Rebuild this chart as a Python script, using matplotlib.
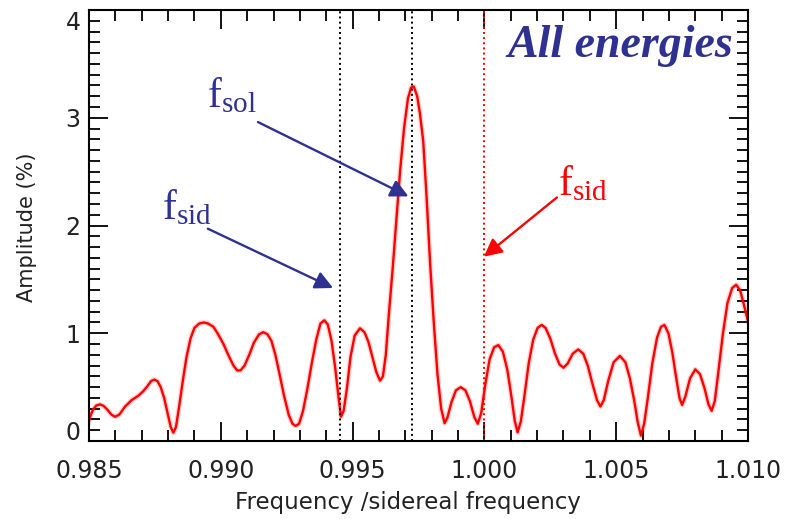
import matplotlib.pyplot as plt
from matplotlib.ticker import MultipleLocator
from matplotlib.transforms import ScaledTranslation

plt.rcParams['mathtext.fontset'] = 'custom'
plt.rcParams['mathtext.rm'] = 'Liberation Serif'
plt.rcParams['mathtext.it'] = 'Liberation Serif:italic'

# amplitude spectrum, frequency in units of the sidereal frequency
freq = [0.98497, 0.98505, 0.98515, 0.98528, 0.98542, 0.98556, 0.98570, 0.98585,
        0.98599, 0.98615, 0.98637, 0.98662, 0.98687, 0.98705, 0.98722, 0.98735,
        0.98748, 0.98760, 0.98772, 0.98785, 0.98797, 0.98810, 0.98820, 0.98830,
        0.98842, 0.98856, 0.98870, 0.98885, 0.98900, 0.98918, 0.98935, 0.98952,
        0.98972, 0.98990, 0.99010, 0.99030, 0.99048, 0.99062, 0.99075, 0.99090,
        0.99108, 0.99125, 0.99145, 0.99161, 0.99177, 0.99192, 0.99207, 0.99222,
        0.99240, 0.99258, 0.99272, 0.99284, 0.99297, 0.99312, 0.99328, 0.99345,
        0.99362, 0.99378, 0.99393, 0.99406, 0.99420, 0.99434, 0.99446, 0.99456,
        0.99466, 0.99478, 0.99492, 0.99508, 0.99528, 0.99545, 0.99560, 0.99575,
        0.99590, 0.99604, 0.99615, 0.99626, 0.99638, 0.99652, 0.99666, 0.99680,
        0.99695, 0.99710, 0.99722, 0.99732, 0.99745, 0.99756, 0.99768, 0.99781,
        0.99794, 0.99808, 0.99822, 0.99836, 0.99849, 0.99860, 0.99875, 0.99892,
        0.99910, 0.99928, 0.99945, 0.99962, 0.99975, 0.99988, 1.00003, 1.00020,
        1.00037, 1.00053, 1.00070, 1.00087, 1.00102, 1.00115, 1.00126, 1.00138,
        1.00152, 1.00168, 1.00185, 1.00202, 1.00217, 1.00232, 1.00250, 1.00268,
        1.00285, 1.00300, 1.00316, 1.00335, 1.00356, 1.00375, 1.00392, 1.00410,
        1.00427, 1.00440, 1.00453, 1.00470, 1.00490, 1.00514, 1.00535, 1.00552,
        1.00568, 1.00582, 1.00594, 1.00606, 1.00620, 1.00637, 1.00655, 1.00670,
        1.00683, 1.00698, 1.00713, 1.00728, 1.00740, 1.00750, 1.00762, 1.00780,
        1.00800, 1.00818, 1.00835, 1.00850, 1.00862, 1.00874, 1.00888, 1.00905,
        1.00922, 1.00940, 1.00955, 1.00970, 1.00985, 1.01000]
amp = [0.16, 0.23, 0.29, 0.33, 0.34, 0.325, 0.29, 0.245,
       0.225, 0.245, 0.32, 0.38, 0.42, 0.46, 0.51, 0.555,
       0.57, 0.555, 0.50, 0.40, 0.27, 0.13, 0.077, 0.13,
       0.32, 0.56, 0.78, 0.95, 1.05, 1.09, 1.10, 1.09,
       1.06, 0.99, 0.90, 0.79, 0.70, 0.655, 0.655, 0.70,
       0.80, 0.91, 0.99, 1.01, 0.99, 0.93, 0.80, 0.63,
       0.42, 0.24, 0.16, 0.14, 0.16, 0.28, 0.48, 0.72,
       0.94, 1.09, 1.12, 1.08, 0.93, 0.68, 0.42, 0.225,
       0.28, 0.48, 0.78, 0.98, 1.046, 1.01, 0.92, 0.78,
       0.64, 0.56, 0.60, 0.80, 1.19, 1.60, 2.05, 2.50,
       2.90, 3.18, 3.28, 3.29, 3.20, 3.03, 2.78, 2.25,
       1.65, 1.10, 0.62, 0.30, 0.165, 0.22, 0.36, 0.47,
       0.50, 0.47, 0.37, 0.22, 0.16, 0.26, 0.52, 0.76,
       0.87, 0.89, 0.83, 0.66, 0.42, 0.19, 0.08, 0.18,
       0.42, 0.72, 0.94, 1.05, 1.077, 1.05, 0.95, 0.81,
       0.71, 0.68, 0.72, 0.81, 0.85, 0.81, 0.70, 0.53,
       0.38, 0.32, 0.38, 0.56, 0.73, 0.79, 0.73, 0.58,
       0.38, 0.17, 0.05, 0.16, 0.40, 0.72, 0.96, 1.06,
       1.077, 1.00, 0.82, 0.58, 0.40, 0.334, 0.41, 0.58,
       0.665, 0.62, 0.49, 0.34, 0.28, 0.37, 0.65, 1.00,
       1.28, 1.42, 1.45, 1.40, 1.26, 1.11]

f_antisid = 0.99454
f_sol = 0.99727
f_sid = 1.000

xticks = [0.985, 0.990, 0.995, 1.000, 1.005, 1.010]
yticks = [0, 1, 2, 3, 4]

blue = '#2e3192'
red = '#ff0000'

fig = plt.figure(figsize=(7.91, 5.19), dpi=100)
ax = fig.add_axes([89 / 791, 1 - 441 / 519, 659 / 791, 431 / 519])

# soft halo under the spectrum line, then the line itself
ax.plot(freq, amp, color=red, lw=3.6, alpha=0.18, solid_joinstyle='round')
ax.plot(freq, amp, color=red, lw=1.7, solid_joinstyle='round', solid_capstyle='round')
ax.axvline(f_antisid, color='black', ls=':', lw=1.4)
ax.axvline(f_sol, color='black', ls=':', lw=1.4)
ax.axvline(f_sid, color=red, ls=':', lw=1.4)

ax.set_xlim(0.985, 1.010)
ax.set_ylim(0, 4)
ax.set_xticks(xticks)
ax.set_xticklabels(['%.3f' % t for t in xticks])
ax.set_yticks(yticks)
ax.set_yticklabels([str(t) for t in yticks])
ax.xaxis.set_minor_locator(MultipleLocator(0.001))
ax.yaxis.set_minor_locator(MultipleLocator(0.1))
ax.tick_params(which='both', direction='in', top=True, right=True, width=1.3)
ax.tick_params(which='major', length=14)
ax.tick_params(which='minor', length=8)
ax.tick_params(axis='x', pad=13, labelsize=17, labelcolor='#222222')
ax.tick_params(axis='y', pad=6, labelsize=17, labelcolor='#222222')
for s in ax.spines.values():
    s.set_linewidth(1.5)

# pull the end labels of the y axis inside the frame
ylabels = ax.get_yticklabels()
ylabels[0].set_transform(ylabels[0].get_transform() + ScaledTranslation(0, 11 / 100, fig.dpi_scale_trans))
ylabels[-1].set_transform(ylabels[-1].get_transform() + ScaledTranslation(0, -11 / 100, fig.dpi_scale_trans))

fig.text(408 / 791, 1 - 503 / 519, 'Frequency /sidereal frequency', ha='center', va='center',
         fontsize=16.5, color='#222222')
fig.text(27 / 791, 1 - 227 / 519, 'Amplitude (%)', rotation=90, ha='center', va='center',
         fontsize=15, color='#222222')

ax.text(1.00943, 3.564, 'All energies', ha='right', va='baseline', color=blue,
        fontsize=33, family='Liberation Serif', weight='bold', style='italic')

arrow_kw = dict(arrowstyle='-|>,head_length=0.9,head_width=0.45', lw=1.7,
                mutation_scale=12, shrinkA=0, shrinkB=0)

ax.text(0.98948, 3.10, r'$\mathrm{f_{sol}}$', color=blue, fontsize=30, ha='left', va='baseline')
ax.annotate('', xy=(0.99712, 2.27), xytext=(0.99141, 2.96),
            arrowprops=dict(color=blue, **arrow_kw))

ax.text(0.98777, 2.06, r'$\mathrm{f_{sid}}$', color=blue, fontsize=30, ha='left', va='baseline')
ax.annotate('', xy=(0.99426, 1.42), xytext=(0.98951, 1.97),
            arrowprops=dict(color=blue, **arrow_kw))

ax.text(1.00279, 2.28, r'$\mathrm{f_{sid}}$', color=red, fontsize=30, ha='left', va='baseline')
ax.annotate('', xy=(0.99998, 1.71), xytext=(1.00275, 2.26),
            arrowprops=dict(color=red, **arrow_kw))

fig.savefig('out.png', dpi=100)
